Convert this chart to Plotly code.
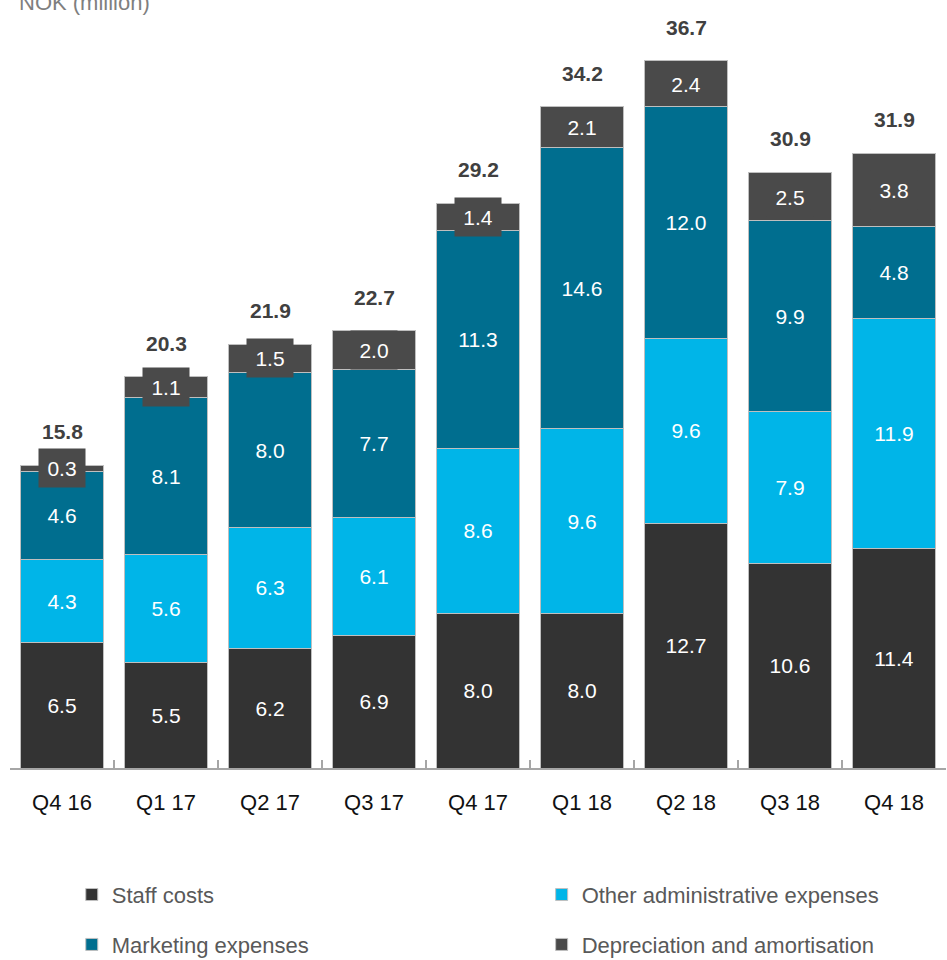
import plotly.graph_objects as go

quarters = ["Q4 16", "Q1 17", "Q2 17", "Q3 17", "Q4 17", "Q1 18", "Q2 18", "Q3 18", "Q4 18"]
staff_costs = [6.5, 5.5, 6.2, 6.9, 8.0, 8.0, 12.7, 10.6, 11.4]
other_admin = [4.3, 5.6, 6.3, 6.1, 8.6, 9.6, 9.6, 7.9, 11.9]
marketing = [4.6, 8.1, 8.0, 7.7, 11.3, 14.6, 12.0, 9.9, 4.8]
depreciation = [0.3, 1.1, 1.5, 2.0, 1.4, 2.1, 2.4, 2.5, 3.8]
totals = [15.8, 20.3, 21.9, 22.7, 29.2, 34.2, 36.7, 30.9, 31.9]

FONT = "Liberation Sans, Arial, sans-serif"
C_STAFF = "#333333"
C_OTHER = "#00b5e8"
C_MARKET = "#006e8f"
C_DEPR = "#4a4a4a"
EDGE = dict(color="#bfbfbf", width=1)

fig = go.Figure()

series = [
    ("Staff costs", staff_costs, C_STAFF, "legend"),
    ("Other administrative expenses", other_admin, C_OTHER, "legend2"),
    ("Marketing expenses", marketing, C_MARKET, "legend3"),
]
for name, vals, color, leg in series:
    fig.add_trace(go.Bar(
        x=quarters, y=vals, name=name, legend=leg, showlegend=True,
        marker=dict(color=color, line=EDGE),
        text=[f"{v:.1f}" for v in vals], textposition="inside",
        insidetextanchor="middle", constraintext="none",
        textfont=dict(family=FONT, size=21, color="white"),
    ))

fig.add_trace(go.Bar(
    x=quarters, y=depreciation, name="Depreciation and amortisation", legend="legend4",
    showlegend=True, marker=dict(color=C_DEPR, line=EDGE), textposition="none",
))

# depreciation labels sit on a dark box so they stay readable on thin segments
for q, s, o, m, d in zip(quarters, staff_costs, other_admin, marketing, depreciation):
    fig.add_annotation(
        x=q, y=s + o + m + d / 2, text=f"{d:.1f}", showarrow=False,
        font=dict(family=FONT, size=21, color="white"),
        bgcolor=C_DEPR, borderpad=3, width=40, height=32, yanchor="middle",
    )

# stacked totals above each bar
for q, s, o, m, d, t in zip(quarters, staff_costs, other_admin, marketing, depreciation, totals):
    fig.add_annotation(
        x=q, y=s + o + m + d, text=f"<b>{t:.1f}</b>", showarrow=False,
        font=dict(family=FONT, size=21, color="#404040"),
        yanchor="bottom", yshift=20,
    )

fig.add_annotation(
    xref="paper", yref="paper", x=0.008, y=0.978, xanchor="left", yanchor="bottom",
    text="NOK (million)", showarrow=False,
    font=dict(family=FONT, size=22, color="#7f7f7f"),
)

legend_font = dict(family=FONT, size=22, color="#595959")
legend_pos = {"legend": (0.066, -0.165), "legend2": (0.568, -0.165),
              "legend3": (0.066, -0.23), "legend4": (0.568, -0.23)}
legends = {
    key: dict(x=x, y=y, xanchor="left", yanchor="middle", orientation="h",
              font=legend_font, bgcolor="rgba(0,0,0,0)", visible=True)
    for key, (x, y) in legend_pos.items()
}

fig.update_layout(
    width=947, height=960,
    margin=dict(l=10, r=1, t=0, b=192, autoexpand=False),
    barmode="stack", bargap=0.2, showlegend=True,
    plot_bgcolor="white", paper_bgcolor="white",
    font=dict(family=FONT),
    xaxis=dict(
        type="category", range=[-0.5, 8.5],
        showline=True, linecolor="#a6a6a6", linewidth=2,
        ticks="inside", tickson="boundaries", ticklen=8, tickcolor="#a6a6a6", tickwidth=2,
        tickfont=dict(family=FONT, size=22, color="#111111"),
        ticklabelstandoff=14, showgrid=False, zeroline=False,
    ),
    yaxis=dict(range=[0, 39.85], visible=False, showgrid=False, zeroline=False),
    **legends,
)

fig.write_html("out.html")
